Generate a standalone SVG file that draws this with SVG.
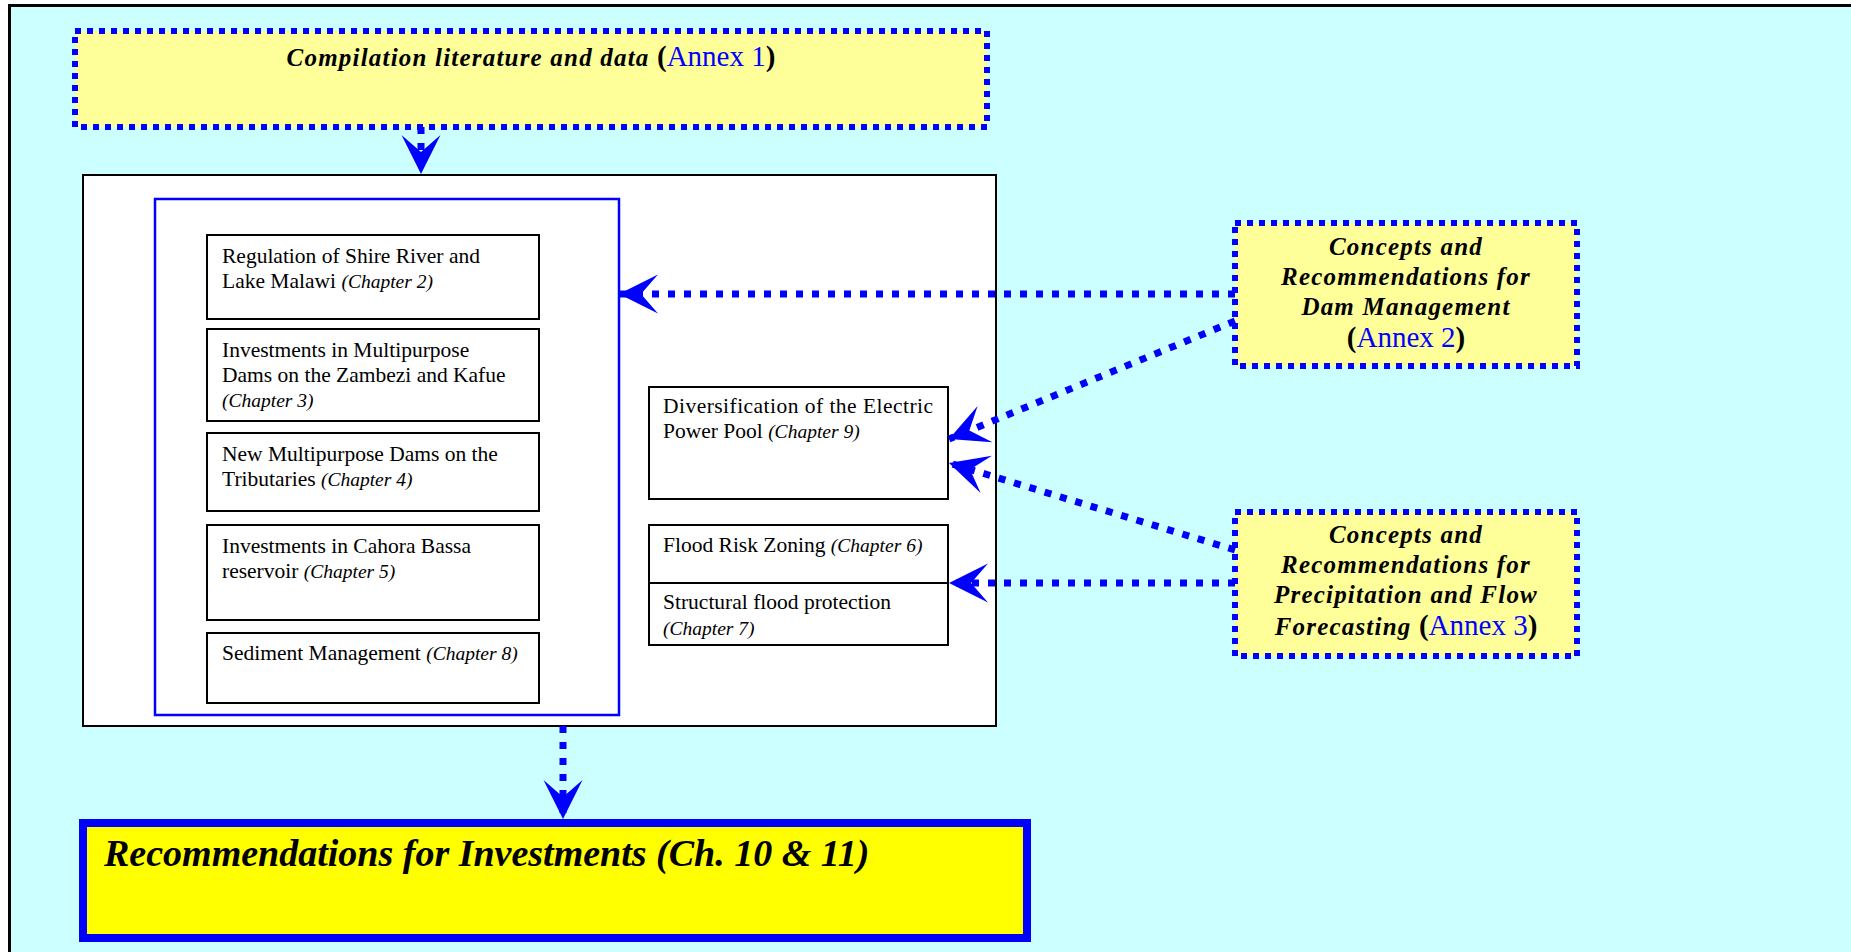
<svg xmlns="http://www.w3.org/2000/svg" width="1851" height="952" viewBox="0 0 1851 952">
<style>
.frame{fill:#CCFFFF;stroke:#000;stroke-width:3}
.ann{fill:#FFFF99;stroke:#0000FF;stroke-width:6;stroke-dasharray:6 6}
.box{fill:#fff;stroke:#000;stroke-width:2}
.conn{fill:none;stroke:#0000FF;stroke-width:7;stroke-dasharray:7 9}
.t{font-family:"Liberation Serif",serif;font-size:21.5px;fill:#000}
.ch{font-style:italic;font-size:19.5px}
.bi{font-family:"Liberation Serif",serif;font-size:25px;font-weight:bold;font-style:italic;letter-spacing:1.2px;fill:#000}
.an{font-weight:normal;font-style:normal;font-size:29px;fill:#0000FF;letter-spacing:0}
.par{font-size:29px;font-style:normal;letter-spacing:0}
</style>
<defs>
<marker id="ah" markerUnits="userSpaceOnUse" markerWidth="50" markerHeight="50" viewBox="-45 -25 50 50" refX="0" refY="0" orient="auto">
<path d="M0,0 L-39,-19.5 L-22,0 L-39,19.5 Z" fill="#0000FF"/>
</marker>
</defs>
<rect x="0" y="0" width="1851" height="952" fill="#fff"/>
<rect class="frame" x="9.5" y="5.5" width="1860" height="960"/>

<g id="compilation">
<rect class="ann" x="75" y="31" width="912" height="96"/>
<text class="bi" x="531" y="66" text-anchor="middle">Compilation literature and data <tspan class="par">(</tspan><tspan class="an">Annex 1</tspan><tspan class="par">)</tspan></text>
</g>

<g id="mainbox">
<rect class="box" x="83" y="175" width="913" height="551"/>
</g>

<g id="group-left">
<rect x="155" y="199" width="464" height="516" fill="none" stroke="#0000FF" stroke-width="2.5"/>
</g>

<g id="box-ch2">
<rect class="box" x="207" y="235" width="332" height="84"/>
<text class="t" x="222" y="263">Regulation of Shire River and</text>
<text class="t" x="222" y="288">Lake Malawi <tspan class="ch">(Chapter 2)</tspan></text>
</g>
<g id="box-ch3">
<rect class="box" x="207" y="329" width="332" height="92"/>
<text class="t" x="222" y="357">Investments in Multipurpose</text>
<text class="t" x="222" y="382">Dams on the Zambezi and Kafue</text>
<text class="t" x="222" y="407"><tspan class="ch">(Chapter 3)</tspan></text>
</g>
<g id="box-ch4">
<rect class="box" x="207" y="433" width="332" height="78"/>
<text class="t" x="222" y="461">New Multipurpose Dams on the</text>
<text class="t" x="222" y="486">Tributaries <tspan class="ch">(Chapter 4)</tspan></text>
</g>
<g id="box-ch5">
<rect class="box" x="207" y="525" width="332" height="95"/>
<text class="t" x="222" y="553">Investments in Cahora Bassa</text>
<text class="t" x="222" y="578">reservoir <tspan class="ch">(Chapter 5)</tspan></text>
</g>
<g id="box-ch8">
<rect class="box" x="207" y="633" width="332" height="70"/>
<text class="t" x="222" y="660">Sediment Management <tspan class="ch">(Chapter 8)</tspan></text>
</g>

<g id="box-ch9">
<rect class="box" x="649" y="387" width="299" height="112"/>
<text class="t" x="663" y="413" textLength="270" lengthAdjust="spacing">Diversification of the Electric</text>
<text class="t" x="663" y="438">Power Pool <tspan class="ch">(Chapter 9)</tspan></text>
</g>

<g id="box-ch6-7">
<rect class="box" x="649" y="525" width="299" height="120"/>
<line x1="649" y1="583" x2="948" y2="583" stroke="#000" stroke-width="2"/>
<text class="t" x="663" y="552">Flood Risk Zoning <tspan class="ch">(Chapter 6)</tspan></text>
<text class="t" x="663" y="609">Structural flood protection</text>
<text class="t" x="663" y="635"><tspan class="ch">(Chapter 7)</tspan></text>
</g>

<g id="annex2">
<rect class="ann" x="1235" y="223" width="342" height="143" stroke-width="5"/>
<text class="bi" x="1406" y="255" text-anchor="middle">Concepts and</text>
<text class="bi" x="1406" y="285" text-anchor="middle">Recommendations for</text>
<text class="bi" x="1406" y="315" text-anchor="middle">Dam Management</text>
<text class="bi" x="1406" y="347" text-anchor="middle"><tspan class="par">(</tspan><tspan class="an">Annex 2</tspan><tspan class="par">)</tspan></text>
</g>

<g id="annex3">
<rect class="ann" x="1235" y="512" width="342" height="144" stroke-width="5"/>
<text class="bi" x="1406" y="543" text-anchor="middle">Concepts and</text>
<text class="bi" x="1406" y="573" text-anchor="middle">Recommendations for</text>
<text class="bi" x="1406" y="603" text-anchor="middle">Precipitation and Flow</text>
<text class="bi" x="1406" y="635" text-anchor="middle">Forecasting <tspan class="par">(</tspan><tspan class="an">Annex 3</tspan><tspan class="par">)</tspan></text>
</g>

<g id="recommendations">
<rect x="83" y="823" width="944" height="115" fill="#FFFF00" stroke="#0000FF" stroke-width="8"/>
<text x="104" y="866" font-family="Liberation Serif, serif" font-size="38" font-weight="bold" font-style="italic" fill="#000">Recommendations for Investments (Ch. 10 &amp; 11)</text>
</g>

<g id="connectors">
<path class="conn" d="M421,127 L421,174" marker-end="url(#ah)"/>
<path class="conn" d="M563,726 L563,819" marker-end="url(#ah)"/>
<path class="conn" d="M1235,294 L619,294" marker-end="url(#ah)"/>
<path class="conn" d="M1235,321 L949,439" marker-end="url(#ah)"/>
<path class="conn" d="M1235,550 L949,463" marker-end="url(#ah)"/>
<path class="conn" d="M1235,583 L949,583" marker-end="url(#ah)"/>
</g>
</svg>
